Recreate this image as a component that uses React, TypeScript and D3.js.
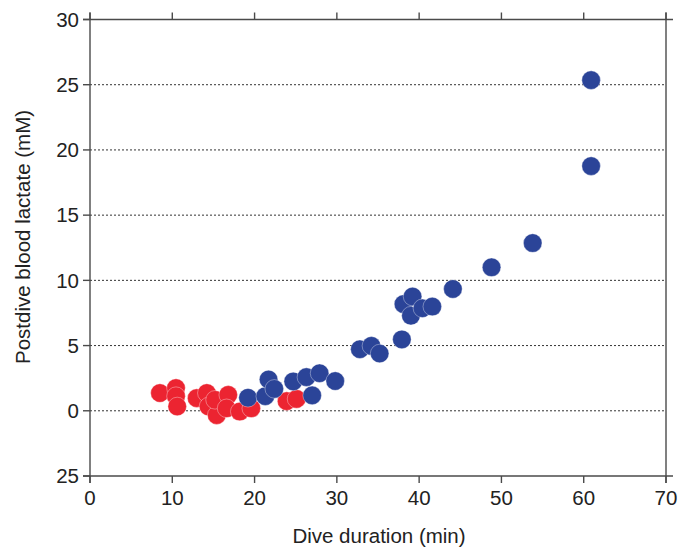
import React from "react";
import * as d3 from "d3";

const redX = [8.5, 10.45, 10.45, 10.6, 12.97, 14.2, 14.4, 15.4, 15.2, 16.8, 16.6, 18.2, 19.6, 23.9, 25.1];
const redY = [1.36, 1.74, 1.12, 0.33, 0.97, 1.36, 0.33, -0.33, 0.84, 1.22, 0.19, -0.06, 0.19, 0.74, 0.91];

const blueX = [19.2, 21.3, 21.7, 22.4, 24.7, 26.3, 27.0, 27.9, 29.8, 32.8, 34.2, 35.2, 37.9, 38.1, 39.2, 39.0, 40.4, 41.6, 44.1, 48.8, 53.8, 60.9, 60.9];
const blueY = [1.0, 1.12, 2.4, 1.68, 2.25, 2.58, 1.18, 2.88, 2.28, 4.72, 4.98, 4.39, 5.47, 8.18, 8.76, 7.29, 7.86, 7.99, 9.34, 11.0, 12.86, 18.76, 25.35];

const xTicks = [0, 10, 20, 30, 40, 50, 60, 70];
const yTicks = [-5, 0, 5, 10, 15, 20, 25, 30];
const yTickLabels = ["25", "0", "5", "10", "15", "20", "25", "30"];
const gridValues = [0, 5, 10, 15, 20, 25];

const xTitle = "Dive duration (min)";
const yTitle = "Postdive blood lactate (mM)";

const W = 690;
const H = 547;
const L = 90, R = 666, T = 19.5, B = 476;
const TICK = 7;
const FONT = "'Liberation Sans', Arial, Helvetica, sans-serif";
const FS = 20.5;

export default function App() {
  const x = d3.scaleLinear().domain([0, 70]).range([L, R]);
  const y = d3.scaleLinear().domain([-5, 30]).range([B, T]);
  const red = redX.map((v, i) => ({ x: v, y: redY[i] }));
  const blue = blueX.map((v, i) => ({ x: v, y: blueY[i] }));
  const r = 9.3;
  const axisColor = "#4a4a4a";

  return (
    <svg width={W} height={H} style={{ position: "absolute", left: 0, top: 0, background: "#fff" }}>
      {gridValues.map((g) => (
        <line key={"g" + g} x1={L} x2={R} y1={y(g)} y2={y(g)} stroke="#333" strokeWidth={1} strokeDasharray="2,2" />
      ))}
      <line x1={L - TICK} x2={R + TICK} y1={T} y2={T} stroke={axisColor} strokeWidth={1.4} />
      <line x1={L - TICK} x2={R + TICK} y1={B} y2={B} stroke={axisColor} strokeWidth={1.4} />
      <line x1={L} x2={L} y1={T - TICK} y2={B + TICK} stroke={axisColor} strokeWidth={1.4} />
      <line x1={R} x2={R} y1={T - TICK} y2={B + TICK} stroke={axisColor} strokeWidth={1.4} />
      {xTicks.map((t) => (
        <g key={"xt" + t}>
          <line x1={x(t)} x2={x(t)} y1={B} y2={B + TICK} stroke={axisColor} strokeWidth={1.4} />
          <line x1={x(t)} x2={x(t)} y1={T} y2={T - TICK} stroke={axisColor} strokeWidth={1.4} />
          <text x={x(t)} y={B + 29} textAnchor="middle" fontFamily={FONT} fontSize={FS} fill="#222">
            {t}
          </text>
        </g>
      ))}
      {yTicks.map((t, i) => (
        <g key={"yt" + t}>
          <line x1={L - TICK} x2={L} y1={y(t)} y2={y(t)} stroke={axisColor} strokeWidth={1.4} />
          <text x={L - 11} y={y(t)} dy="0.35em" textAnchor="end" fontFamily={FONT} fontSize={FS} fill="#222">
            {yTickLabels[i]}
          </text>
        </g>
      ))}
      {red.map((d, i) => (
        <circle key={"r" + i} cx={x(d.x)} cy={y(d.y)} r={r} fill="#ec2431" stroke="#ffffff" strokeOpacity={0.45} strokeWidth={0.8} />
      ))}
      {blue.map((d, i) => (
        <circle key={"b" + i} cx={x(d.x)} cy={y(d.y)} r={r} fill="#2b4498" stroke="#ffffff" strokeOpacity={0.45} strokeWidth={0.8} />
      ))}
      <text x={(L + R) / 2 + 1} y={543} textAnchor="middle" fontFamily={FONT} fontSize={FS} fill="#222">
        {xTitle}
      </text>
      <text
        transform={`translate(30, 237) rotate(-90)`}
        textAnchor="middle"
        fontFamily={FONT}
        fontSize={FS}
        fill="#222"
      >
        {yTitle}
      </text>
    </svg>
  );
}
